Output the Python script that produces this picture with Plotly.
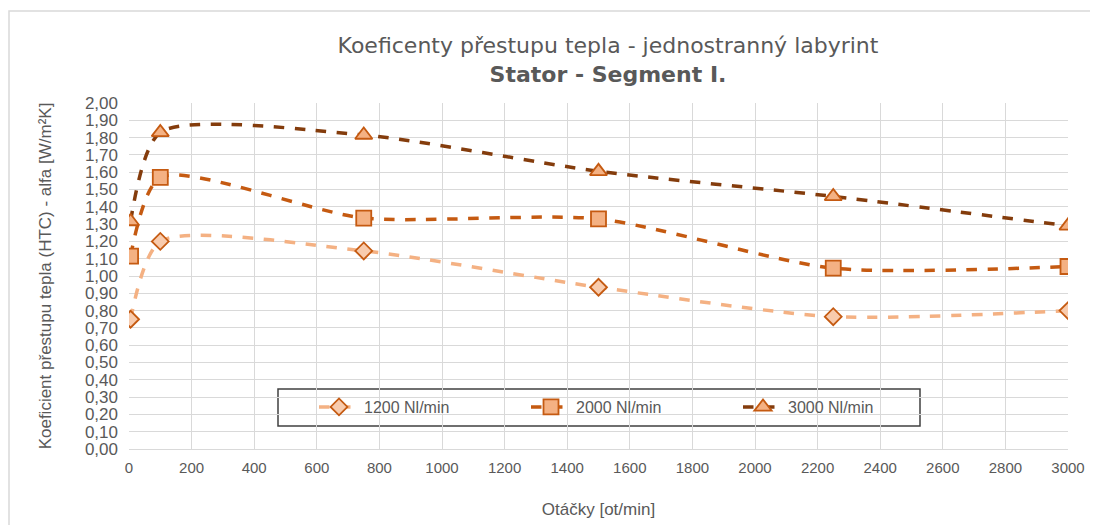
import plotly.graph_objects as go

x_vals = [5, 100, 750, 1500, 2250, 3000]
s1200 = [0.75, 1.20, 1.145, 0.935, 0.765, 0.80]
s2000 = [1.115, 1.57, 1.335, 1.33, 1.045, 1.055]
s3000 = [1.315, 1.83, 1.815, 1.605, 1.46, 1.29]
names = ["1200 Nl/min", "2000 Nl/min", "3000 Nl/min"]
x_ticks = list(range(0, 3001, 200))
y_ticks = [i / 10 for i in range(0, 21)]

line_colors = ["#F4B183", "#C55A11", "#843C0C"]
marker_fill = ["#F8CBAD", "#F4B183", "#F4B183"]
marker_edge = "#C55A11"
symbols = ["diamond", "square", "triangle-up"]
sizes = [13, 15, 15]

fig = go.Figure()
for name, ys, lc, mf, sym, sz in zip(names, [s1200, s2000, s3000], line_colors, marker_fill, symbols, sizes):
    fig.add_trace(go.Scatter(
        x=x_vals, y=ys, name=name, mode="lines+markers",
        line=dict(color=lc, width=3.5, dash="dash", shape="spline", smoothing=0.7),
        marker=dict(symbol=sym, size=sz, color=mf, line=dict(color=marker_edge, width=1.8)),
    ))

font_main = "Liberation Sans, Arial, sans-serif"
gray = "#595959"

OFF = 8  # page body margin
W, H = 1090, 517
pl, pt = 129 - OFF, 103 - OFF
pr = W - (1068 - OFF)
pb = H - (449 - OFF)
pw = W - pl - pr
ph = H - pt - pb

def px_x(v):
    return (v - OFF - pl) / pw

def px_y(v):
    return (H - pb - (v - OFF)) / ph

fig.update_layout(
    width=W, height=H,
    margin=dict(l=pl, r=pr, t=pt, b=pb, autoexpand=False),
    paper_bgcolor="white", plot_bgcolor="white",
    separators=", ",
    font=dict(family=font_main, color=gray),
    title=dict(
        text="Koeficenty přestupu tepla - jednostranný labyrint<br><b>Stator - Segment I.</b>",
        x=(608 - OFF) / W, xanchor="center", y=1 - (53 - OFF) / H, yanchor="middle",
        font=dict(size=22, color=gray, family="DejaVu Sans, sans-serif"),
    ),
    xaxis=dict(
        range=[0, 3000], tickvals=x_ticks, ticktext=[str(v) for v in x_ticks],
        showgrid=True, gridcolor="#D9D9D9", gridwidth=1,
        showline=True, linecolor="#D9D9D9", zeroline=False,
        ticks="", ticklabelstandoff=5, tickfont=dict(size=15, color=gray, family=font_main),
        title=dict(text="Otáčky [ot/min]", font=dict(size=17, color=gray, family=font_main), standoff=28),
    ),
    yaxis=dict(
        range=[0, 2.0], tickvals=y_ticks, tickformat=".2f",
        showgrid=True, gridcolor="#D9D9D9", gridwidth=1,
        showline=False, zeroline=False,
        ticks="", ticklabelstandoff=10, tickfont=dict(size=17, color=gray, family=font_main),
        title=dict(text="Koeficient přestupu tepla (HTC) - alfa [W/m²K]",
                   font=dict(size=17, color=gray, family=font_main), standoff=28),
    ),
    legend=dict(
        orientation="h", x=px_x(314), xanchor="left", y=px_y(407), yanchor="middle",
        bgcolor="rgba(0,0,0,0)", borderwidth=0,
        font=dict(size=16, color=gray, family=font_main),
        entrywidth=157, entrywidthmode="pixels", itemwidth=40,
    ),
    showlegend=True,
)

# legend frame
fig.add_shape(type="rect", xref="paper", yref="paper",
              x0=px_x(278), x1=px_x(920), y0=px_y(426), y1=px_y(389),
              line=dict(color="#404040", width=1.5), fillcolor="white", layer="below")
# outer chart frame
fig.add_shape(type="rect", xref="paper", yref="paper",
              x0=px_x(9), x1=px_x(1110), y0=px_y(540), y1=px_y(11),
              line=dict(color="#D9D9D9", width=1.5), fillcolor="rgba(0,0,0,0)", layer="below")

fig.write_html("out.html")
